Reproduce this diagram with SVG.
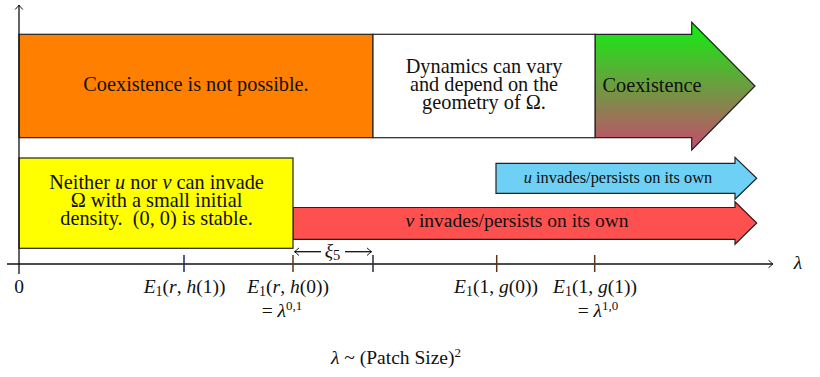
<svg xmlns="http://www.w3.org/2000/svg" width="820" height="377" viewBox="0 0 820 377">
<style>
text{font-family:"Liberation Serif","Times New Roman",serif;font-size:19.5px;fill:#111}
.big{font-size:20.3px}
.i{font-style:italic}
.sm{font-size:16.4px}
.box{stroke:#222;stroke-width:1.2}
.ax{stroke:#111;stroke-width:1.3;fill:none}
.tk{stroke-width:1.5;fill:none}
</style>
<defs>
<linearGradient id="gr" x1="0" y1="0" x2="0" y2="1">
<stop offset="0" stop-color="#10f010"/>
<stop offset="1" stop-color="#c84a6e"/>
</linearGradient>
<marker id="ar" viewBox="-6 -5 8 10" markerWidth="8" markerHeight="10" refX="0" refY="0" orient="auto" markerUnits="userSpaceOnUse">
<path d="M-4.5,-3.8 Q-1.2,-0.8 0,0 Q-1.2,0.8 -4.5,3.8" fill="none" stroke="#111" stroke-width="1"/>
</marker>
</defs>
<g id="coexist-arrow">
<path class="box" fill="url(#gr)" d="M595,34.3 H691.7 V22.3 L755,86 L691.7,150 V137.7 H595 Z"/>
<text class="big" x="602.5" y="92.3">Coexistence</text>
</g>
<g id="not-possible">
<rect class="box" x="19" y="34.3" width="354" height="103.4" fill="#ff8000"/>
<text class="big" x="196" y="91" text-anchor="middle">Coexistence is not possible.</text>
</g>
<g id="dynamics">
<rect class="box" x="373" y="34.3" width="222" height="103.4" fill="#ffffff"/>
<text class="big" text-anchor="middle"><tspan x="484" y="72.7">Dynamics can vary</tspan><tspan x="484" y="90.9">and depend on the</tspan><tspan x="484" y="109.1">geometry of Ω.</tspan></text>
</g>
<g id="u-arrow">
<path class="box" fill="#6dd0f4" d="M496,163.3 H735 V157.3 L756.7,178.3 L735,199.3 V193.3 H496 Z"/>
<text class="sm" x="618" y="182.5" text-anchor="middle"><tspan class="i">u</tspan> invades/persists on its own</text>
</g>
<g id="v-arrow">
<path class="box" fill="#ff5050" d="M293,207.5 H735 V201.7 L756.7,223 L735,244.3 V239.3 H293 Z"/>
<text x="517" y="227" text-anchor="middle" font-size="19.8"><tspan class="i">v</tspan> invades/persists on its own</text>
</g>
<g id="neither">
<rect class="box" x="19" y="158" width="274" height="90.3" fill="#ffff00"/>
<text class="big" text-anchor="middle"><tspan x="156.5" y="188.5">Neither <tspan class="i">u</tspan> nor <tspan class="i">v</tspan> can invade</tspan><tspan x="156.5" y="206.8">Ω with a small initial</tspan><tspan x="156.5" y="225.1">density.&#160; (0, 0) is stable.</tspan></text>
</g>
<g id="connectors">
<line class="ax" x1="19" y1="274" x2="19" y2="5" marker-end="url(#ar)"/>
<line class="ax" x1="7" y1="264" x2="773" y2="264" marker-end="url(#ar)"/>
<line class="ax" x1="321" y1="251.7" x2="294.5" y2="251.7" marker-end="url(#ar)" stroke-width="1"/>
<line class="ax" x1="345" y1="251.7" x2="371.5" y2="251.7" marker-end="url(#ar)" stroke-width="1"/>
<line class="tk" stroke="#1a2a5a" x1="184" y1="255" x2="184" y2="272"/>
<line class="tk" stroke="#5a3418" x1="293" y1="255" x2="293" y2="272"/>
<line class="tk" stroke="#2a2a3a" x1="373" y1="255" x2="373" y2="272"/>
<line class="tk" stroke="#5a3418" x1="496.7" y1="255" x2="496.7" y2="272"/>
<line class="tk" stroke="#5a3418" x1="594.7" y1="255" x2="594.7" y2="272"/>
</g>
<g id="labels">
<text x="332.5" y="256.5" text-anchor="middle" font-size="21"><tspan class="i">ξ</tspan><tspan font-size="14.5" dy="3">5</tspan></text>
<text x="798" y="269" text-anchor="middle" class="i">λ</text>
<text x="19" y="293" text-anchor="middle">0</text>
<text x="184.5" y="293" text-anchor="middle"><tspan class="i">E</tspan><tspan font-size="14" dy="3">1</tspan><tspan dy="-3">(</tspan><tspan class="i">r</tspan>, <tspan class="i">h</tspan>(1))</text>
<text x="288" y="293" text-anchor="middle"><tspan class="i">E</tspan><tspan font-size="14" dy="3">1</tspan><tspan dy="-3">(</tspan><tspan class="i">r</tspan>, <tspan class="i">h</tspan>(0))</text>
<text x="282" y="317" text-anchor="middle">= <tspan class="i">λ</tspan><tspan font-size="13" dy="-7">0,1</tspan></text>
<text x="496" y="293" text-anchor="middle"><tspan class="i">E</tspan><tspan font-size="14" dy="3">1</tspan><tspan dy="-3">(1, </tspan><tspan class="i">g</tspan>(0))</text>
<text x="595" y="293" text-anchor="middle"><tspan class="i">E</tspan><tspan font-size="14" dy="3">1</tspan><tspan dy="-3">(1, </tspan><tspan class="i">g</tspan>(1))</text>
<text x="598" y="317" text-anchor="middle">= <tspan class="i">λ</tspan><tspan font-size="13" dy="-7">1,0</tspan></text>
<text x="396" y="364" text-anchor="middle"><tspan class="i">λ</tspan> ~ (Patch Size)<tspan font-size="13" dy="-7">2</tspan></text>
</g>
</svg>
